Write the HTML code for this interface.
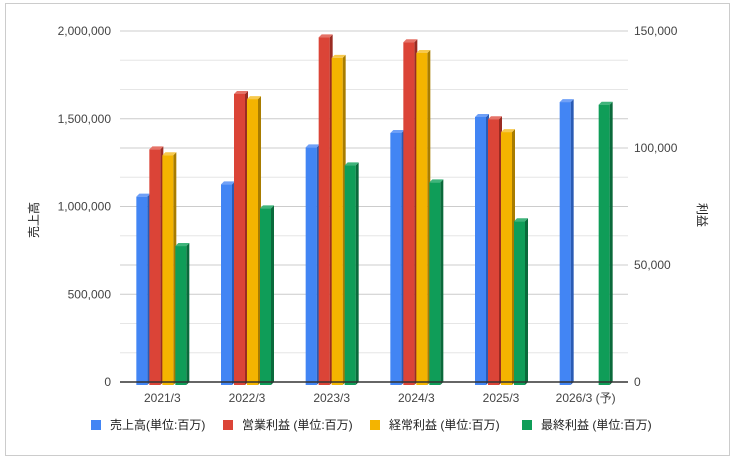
<!DOCTYPE html>
<html><head><meta charset="utf-8"><style>
body{margin:0;background:#fff;}
svg{display:block;font-family:"Liberation Sans","Noto Sans CJK JP",sans-serif;}
</style></head><body>
<svg id="chart" width="735" height="460">
<rect x="5.5" y="3.5" width="724" height="452" fill="#fff" stroke="#ccc"/>
<g id="grid"></g><g id="bars"></g><g id="axes"></g>
<text x="38" y="220" transform="rotate(-90 38 220)" text-anchor="middle" font-size="12" fill="#222">売上高</text>
<text x="698" y="215" transform="rotate(90 698 215)" text-anchor="middle" font-size="12" fill="#222">利益</text>
<g id="legend"></g>
</svg>
<script>
const categories=["2021/3","2022/3","2023/3","2024/3","2025/3","2026/3 (予)"];
const sales=[1056000,1126000,1337000,1419000,1510000,1595000];
const opProfit=[99400,123100,147300,145200,112300,null];
const ordProfit=[96900,120900,138500,140600,106800,null];
const netProfit=[58100,74200,92600,85300,68700,118500];
const leftTicks=[0,500000,1000000,1500000,2000000];
const rightTicks=[0,50000,100000,150000];
const seriesNames=["売上高(単位:百万)","営業利益 (単位:百万)","経常利益 (単位:百万)","最終利益 (単位:百万)"];

const NS="http://www.w3.org/2000/svg";
const X0=120,X1=628,Y0=382,Y1=31;
const yL=v=>Y0-(v/2000000)*(Y0-Y1);
const yR=v=>Y0-(v/150000)*(Y0-Y1);
const gw=(X1-X0)/categories.length;
const xC=i=>X0+gw*(i+0.5);
function mk(tag,attrs,parent){const e=document.createElementNS(NS,tag);for(const k in attrs)e.setAttribute(k,attrs[k]);parent.appendChild(e);return e;}
const grid=document.getElementById('grid'),bars=document.getElementById('bars'),axes=document.getElementById('axes'),legend=document.getElementById('legend');
for(let i=1;i<=12;i++){const y=Y0-(Y0-Y1)*i/12;
 const l=mk('line',{x1:X0,x2:X1,y1:y,y2:y,stroke:i%3===0&&i%4===0?'#ccc':(i%3===0||i%4===0?'#ccc':'#e6e6e6')},grid);
 
 }
const base=mk('line',{x1:X0,x2:X1,y1:Y0,y2:Y0,stroke:'#333','stroke-width':1.5},axes);


leftTicks.forEach(v=>{const t=mk('text',{x:111,y:yL(v)+4,'text-anchor':'end','font-size':12,fill:'#444'},axes);t.textContent=v.toLocaleString('en-US');
 
 });
rightTicks.forEach(v=>{const t=mk('text',{x:634,y:yR(v)+4,'font-size':12,fill:'#444'},axes);t.textContent=v.toLocaleString('en-US');
 
 });
categories.forEach((c,i)=>{const t=mk('text',{x:xC(i),y:402,'text-anchor':'middle','font-size':12,fill:'#444'},axes);t.textContent=c;
 
 });
const series=[[sales,yL,'#4285f4','#2a5bb5','#6fa0f7'],[opProfit,yR,'#db4437','#9a2b22','#e57368'],[ordProfit,yR,'#f4b400','#a87c00','#f7c94d'],[netProfit,yR,'#0f9d58','#0a6a3b','#3fb47b']];
const bw=11,pitch=13,d=3;
series.forEach((s,si)=>{const [vals,yf,fc,sc,tc]=s;
 vals.forEach((v,i)=>{if(v==null)return;
  const x=xC(i)-2*pitch+si*pitch,y=yf(v),yb=Y0+3;
  const g=mk('g',{},bars);
  
  
  mk('polygon',{points:`${x+bw},${y} ${x+bw+d},${y-d} ${x+bw+d},${yb-d} ${x+bw},${yb}`,fill:sc},g);
  mk('polygon',{points:`${x},${y} ${x+d},${y-d} ${x+bw+d},${y-d} ${x+bw},${y}`,fill:tc},g);
  mk('rect',{x:x,y:y,width:bw,height:yb-y,fill:fc},g);
 });});
const lx=[91,223,370,522];
seriesNames.forEach((n,i)=>{const g=mk('g',{},legend);
 
 
 mk('rect',{x:lx[i],y:420,width:10,height:10,fill:series[i][2]},g);
 const t=mk('text',{x:lx[i]+19,y:429,'font-size':12,fill:'#222'},g);t.textContent=n;});
</script>
</body></html>
